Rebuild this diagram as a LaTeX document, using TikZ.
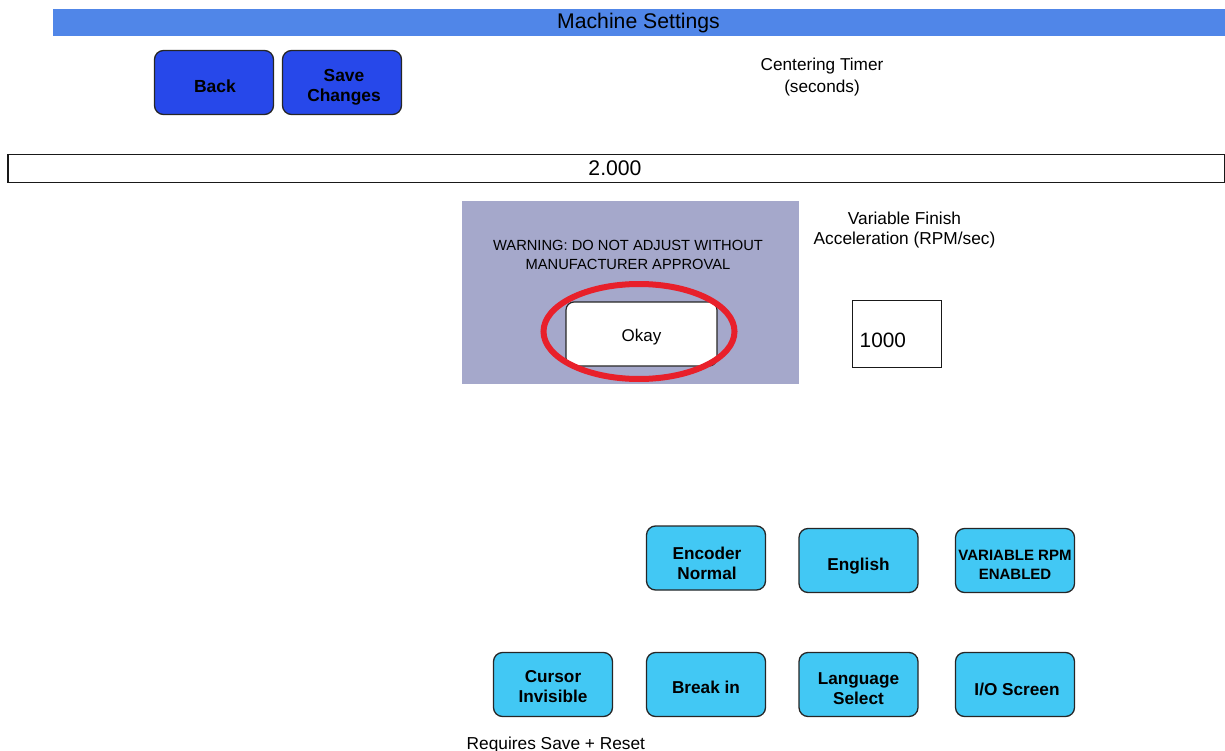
\documentclass[tikz,border=0pt]{standalone}
\usepackage{fontspec}
\setmainfont{Liberation Sans}
\begin{document}
\begin{tikzpicture}[x=1pt,y=-1pt,
  fs/.style 2 args={font=\fontsize{#1}{#2}\selectfont},
  fb/.style 2 args={font=\fontsize{#1}{#2}\selectfont\bfseries},
  btn/.style={draw=black!85, line width=1.3pt, rounded corners=9pt, minimum width=119pt, minimum height=64pt, inner sep=0pt},
  navbtn/.style={btn, fill=navblue},
  optbtn/.style={btn, fill=optblue},
  plain/.style={inner sep=0pt, align=center}]
\definecolor{titleblue}{HTML}{5086E8}
\definecolor{navblue}{HTML}{2748EA}
\definecolor{optblue}{HTML}{42C8F4}
\definecolor{panel}{HTML}{A5A8CB}
\definecolor{ringred}{HTML}{E8202A}
\useasboundingbox (0,0) rectangle (1225,751);
% title bar
\node[fill=titleblue, minimum width=1172pt, minimum height=27pt, inner sep=0pt, anchor=north west] (title) at (53,9) {};
\node[plain, fs={21.2}{25}] (titletext) at (638.5,23.5) {Machine Settings};
% nav buttons
\node[navbtn] (back) at (214,82.5) {};
\node[plain, fb={17.5}{20}] (backtext) at ([xshift=1pt,yshift=-3.5pt]back.center) {Back};
\node[navbtn] (save) at (342,82.5) {};
\node[plain, fb={17.4}{20}] (savetext) at ([xshift=2pt,yshift=-4.5pt]save.center) {Save\\Changes};
% centering timer
\node[plain, fs={17.2}{22}] (ctlabel) at (822,77) {Centering Timer\\(seconds)};
\node[draw=black!90, line width=1.5pt, minimum width=1217pt, minimum height=28pt, inner sep=0pt, anchor=north west] (ctbox) at (7,154) {};
\node[plain, fs={21.2}{24}] (ctval) at (615,168) {2.000};
% warning panel
\node[fill=panel, minimum width=337pt, minimum height=183pt, inner sep=0pt, anchor=north west] (panel) at (462,201) {};
\node[plain, fs={14.7}{19}] (warn) at (628,254.5) {WARNING: DO NOT ADJUST WITHOUT\\MANUFACTURER APPROVAL};
\node[draw=black!85, line width=1.2pt, fill=white, rounded corners=8pt, minimum width=151pt, minimum height=64pt, inner sep=0pt] (okay) at (641.5,334) {};
\node[plain, fs={17}{20}] (okaytext) at ([yshift=-3.5pt]okay.center) {Okay};
\draw[ringred, line width=6pt] (okay.center) ++(-2.5,-2.5) ellipse (95.5pt and 47.5pt);
% variable finish
\node[plain, fs={17.3}{20.5}] (vflabel) at (904.5,230) {Variable Finish\\Acceleration (RPM/sec)};
\node[draw=black!90, line width=1.1pt, minimum width=89pt, minimum height=67pt, inner sep=0pt, anchor=north west] (vfbox) at (852,300) {};
\node[plain, fs={20.8}{24}, anchor=west] (vfval) at (859.5,340) {1000};
% option buttons
\node[optbtn] (encoder) at (706,558) {};
\node[plain, fb={17.2}{20}] (encodertext) at ([xshift=1pt,yshift=-5pt]encoder.center) {Encoder\\Normal};
\node[optbtn] (english) at (858.5,560.5) {};
\node[plain, fb={17.2}{20}] (englishtext) at ([yshift=-5.5pt]english.center) {English};
\node[optbtn] (varrpm) at (1015,560.5) {};
\node[plain, fb={15}{19}] (varrpmtext) at ([yshift=-4pt]varrpm.center) {VARIABLE RPM\\ENABLED};
\node[optbtn] (cursor) at (553,684.5) {};
\node[plain, fb={17.2}{20}] (cursortext) at ([yshift=-2.5pt]cursor.center) {Cursor\\Invisible};
\node[optbtn] (breakin) at (706,684.5) {};
\node[plain, fb={17.2}{20}] (breakintext) at ([yshift=-3pt]breakin.center) {Break in};
\node[optbtn] (lang) at (858.5,684.5) {};
\node[plain, fb={17.2}{20}] (langtext) at ([yshift=-4pt]lang.center) {Language\\Select};
\node[optbtn] (io) at (1015,684.5) {};
\node[plain, fb={17.2}{20}] (iotext) at ([xshift=2pt,yshift=-4.5pt]io.center) {I/O Screen};
\node[plain, fs={17.3}{20}, anchor=west] (req) at (466.5,745.5) {Requires Save + Reset};
\end{tikzpicture}
\end{document}
